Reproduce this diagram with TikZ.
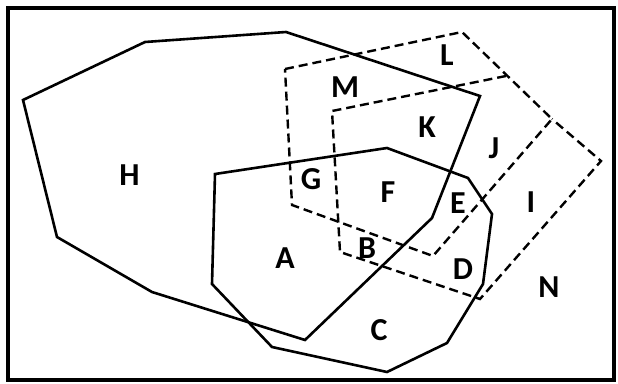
\documentclass[tikz,border=0pt]{standalone}
\usepackage{fontspec}
\setmainfont{Carlito}
\begin{document}
\begin{tikzpicture}[x=1pt,y=-1pt,
  setline/.style={line width=2.6pt,line join=miter},
  dashline/.style={line width=2.4pt,dash pattern=on 9pt off 5pt},
  lbl/.style={anchor=base,inner sep=0pt,font=\fontsize{32}{36}\selectfont\bfseries}]
\useasboundingbox (0,0) rectangle (618,383);
\draw[line width=4pt] (7.5,7.5) rectangle (614,379.5);
% set H
\draw[setline] (23,100) -- (145,42) -- (286,32) -- (480,96) -- (432,218) -- (305,340) -- (152,292) -- (57,237) -- cycle;
% set A
\draw[setline] (215,174) -- (387,148) -- (468,178) -- (492,214) -- (483,284) -- (447,343) -- (387,372) -- (272,347) -- (212,284) -- cycle;
% dashed set P
\draw[dashline] (285,69) -- (462,32) -- (552,119) -- (433,256) -- (292,205) -- cycle;
% dashed set Q
\draw[dashline] (506,76) -- (332,111) -- (340,252) -- (480,299) -- (601,161) -- (552,119);
% labels
\node[lbl] (H) at (129.5,185) {H};
\node[lbl] (L) at (447,65) {L};
\node[lbl] (M) at (345,97) {M};
\node[lbl] (K) at (427,137) {K};
\node[lbl] (J) at (494,158) {J};
\node[lbl] (G) at (311,189) {G};
\node[lbl] (F) at (388,202) {F};
\node[lbl] (E) at (458,213) {E};
\node[lbl] (I) at (531,212) {I};
\node[lbl] (B) at (367,258) {B};
\node[lbl] (D) at (463,279) {D};
\node[lbl] (N) at (549,297) {N};
\node[lbl] (C) at (379,340) {C};
\node[lbl] (A) at (285,268) {A};
\end{tikzpicture}
\end{document}
